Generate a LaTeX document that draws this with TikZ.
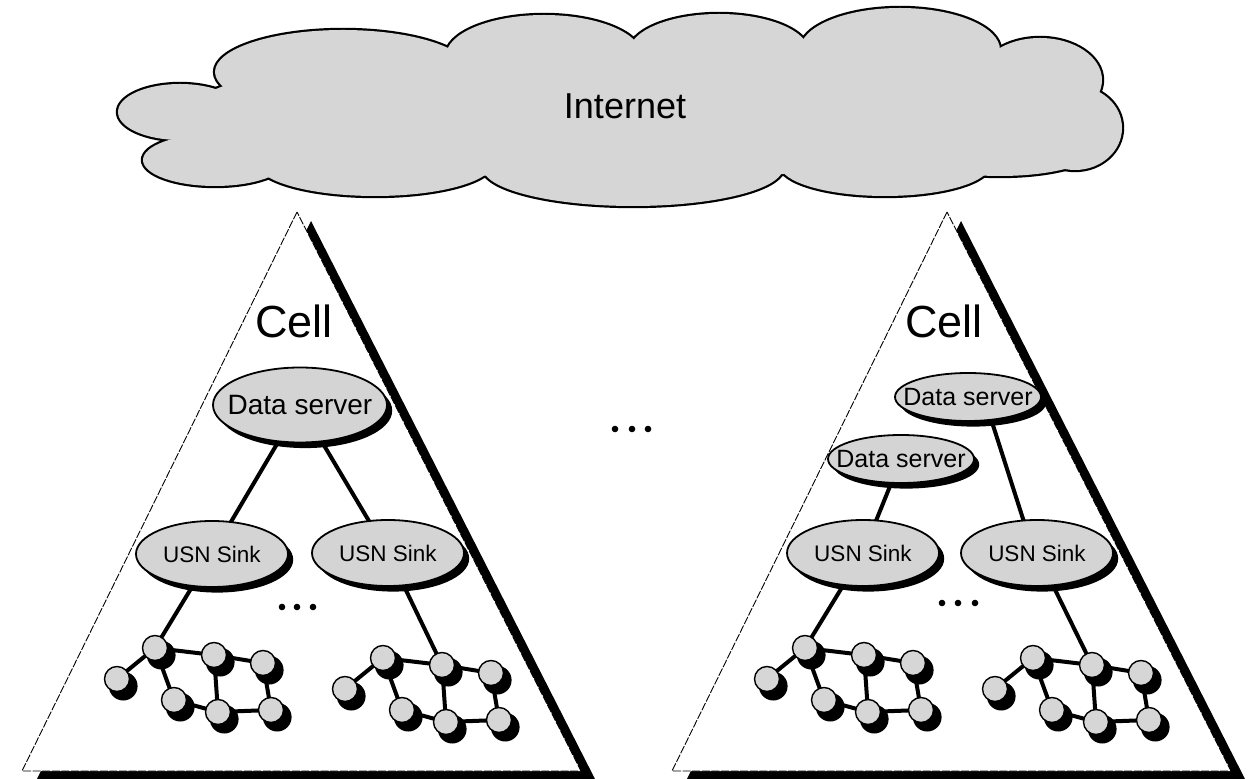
\documentclass[tikz,border=0pt]{standalone}
\usepackage{fontspec}
\setmainfont{Liberation Sans}
\usetikzlibrary{shapes.geometric,shadows,calc}
\pgfdeclarelayer{tri}
\pgfdeclarelayer{edges}
\pgfsetlayers{tri,edges,main}
\tikzset{
  cloudline/.style={draw=black, line width=2.2pt},
  cloudfill/.style={fill=black!16},
  tribd/.style={draw=black, line width=0.45pt, dash pattern=on 4pt off 0.8pt, fill=white},
  trishadow/.style={fill=black},
  ellnode/.style={ellipse, draw=black, line width=0.9pt, fill=black!17, inner sep=0pt,
    drop shadow={fill=black, opacity=1, shadow xshift=2.6pt, shadow yshift=-2.8pt}},
  dsbig/.style={ellnode, minimum width=87pt, minimum height=37.5pt, font=\fontsize{14}{16}\selectfont},
  dssmall/.style={ellnode, minimum width=73pt, minimum height=24pt, font=\fontsize{12.5}{14}\selectfont},
  usn/.style={ellnode, minimum width=76pt, minimum height=33pt, font=\fontsize{11.25}{13}\selectfont},
  sensor/.style={circle, draw=black, line width=0.7pt, fill=black!16, minimum size=12.5pt, inner sep=0pt,
    drop shadow={fill=black, opacity=1, shadow xshift=2.7pt, shadow yshift=-3.1pt, shadow scale=1.15}},
  link/.style={line width=2pt, draw=black},
  celltext/.style={font=\fontsize{22.5}{26}\selectfont, inner sep=0pt, anchor=base},
  dotmark/.style={fill=black}
}
\begin{document}
\begin{tikzpicture}[x=0.5pt, y=-0.5pt]
\useasboundingbox (0,0) rectangle (1252,779);

% ---------- cloud ----------
\def\cloudparts{620/112/430/67, 180/112/62/28, 215/160/72/26, 343/72/128/42,
  544/56/98/41, 719/52/90/38, 900/50/100/42, 1040/80/62/42, 1075/128/47/42,
  1000/150/95/26, 885/165/105/31, 633/168/150/38, 375/163/118/33}
\foreach \cx/\cy/\rx/\ry in \cloudparts
  \path[cloudline] (\cx,\cy) ellipse [x radius=\rx, y radius=\ry];
\foreach \cx/\cy/\rx/\ry in \cloudparts
  \path[cloudfill] (\cx,\cy) ellipse [x radius=\rx, y radius=\ry];
\node (inet) at (625,106) {\fontsize{18}{20}\selectfont Internet};

% ---------- triangles ----------
\begin{pgfonlayer}{tri}
  \path[trishadow] (311,221) -- (36,781) -- (596,781) -- cycle;
  \path[tribd] (297,212) -- (22,771) -- (581,771) -- cycle;
  \path[trishadow] (961,221) -- (686,781) -- (1246,781) -- cycle;
  \path[tribd] (947,212) -- (672,771) -- (1231,771) -- cycle;
\end{pgfonlayer}

% ---------- left cell ----------
\node[celltext] (cellL) at (294,338) {Cell};
\node[dsbig] (dsL) at (300,405) {\makebox[0pt]{Data server}};
\node[usn] (usnL1) at (212,554) {\makebox[0pt]{USN Sink}};
\node[usn] (usnR1) at (388,553) {\makebox[0pt]{USN Sink}};
\foreach \x in {282,297,313} \fill[dotmark] (\x,607) circle [radius=3.3];

% ---------- right cell ----------
\node[celltext] (cellR) at (944,338) {Cell};
\node[dssmall] (dsR1) at (968,397) {\makebox[0pt]{Data server}};
\node[dssmall] (dsR2) at (901,459) {\makebox[0pt]{Data server}};
\node[usn] (usnL2) at (863,553) {\makebox[0pt]{USN Sink}};
\node[usn] (usnR2) at (1037,553) {\makebox[0pt]{USN Sink}};
\foreach \x in {942,958,975} \fill[dotmark] (\x,603) circle [radius=3.3];

% ---------- middle dots ----------
\foreach \x in {615,632,648} \fill[dotmark] (\x,429) circle [radius=3.3];

% ---------- sensor clusters ----------
\foreach \n/\dx/\dy in {p/0/0, q/228/10, r/650/0, s/878/10} {
  \node[sensor] (A\n) at (155+\dx,648+\dy) {};
  \node[sensor] (B\n) at (117+\dx,679+\dy) {};
  \node[sensor] (C\n) at (214+\dx,655+\dy) {};
  \node[sensor] (D\n) at (263+\dx,663+\dy) {};
  \node[sensor] (E\n) at (174+\dx,700+\dy) {};
  \node[sensor] (F\n) at (218+\dx,712+\dy) {};
  \node[sensor] (G\n) at (271+\dx,710+\dy) {};
  \begin{pgfonlayer}{edges}
    \draw[link] (B\n.center) -- (A\n.center) -- (C\n.center) -- (D\n.center)
      -- (G\n.center) -- (F\n.center) -- (E\n.center) -- (A\n.center);
    \draw[link] (C\n.center) -- (F\n.center);
  \end{pgfonlayer}
}

% ---------- connectors ----------
\begin{pgfonlayer}{edges}
  \draw[link] (dsL.center) -- (usnL1.center);
  \draw[link] (dsL.center) -- (usnR1.center);
  \draw[link] (usnL1.center) -- (Ap.center);
  \draw[link] (usnR1.center) -- (Cq.center);
  \draw[link] (dsR2.center) -- (usnL2.center);
  \draw[link] ($(dsR1.south)+(22,-6)$) -- ($(usnR2.north)+(-12,6)$);
  \draw[link] (usnL2.center) -- (Ar.center);
  \draw[link] (usnR2.center) -- (Cs.center);
\end{pgfonlayer}
\end{tikzpicture}
\end{document}
